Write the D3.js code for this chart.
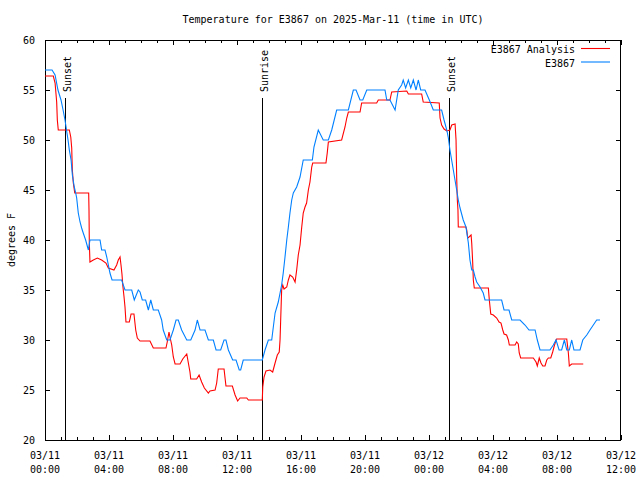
<!DOCTYPE html>
<html>
<head>
<meta charset="utf-8">
<script src="https://cdn.jsdelivr.net/npm/d3@7"></script>
<style>
  html, body { margin: 0; padding: 0; background: #fff; }
  svg { display: block; }
  text { font-family: "DejaVu Sans Mono", "Liberation Mono", monospace; font-size: 10px; fill: #000; }
</style>
</head>
<body>
<svg id="chart" width="640" height="480"></svg>
<script>
// ---- data (hours since 03/11 00:00 UTC) ----
const chartTitle = "Temperature for E3867 on 2025-Mar-11 (time in UTC)";
const yTitle = "degrees F";
const seriesNames = ["E3867 Analysis", "E3867"];
const seriesColors = ["#ff0000", "#0080ff"];

const obsHours = [0.00,0.44,0.63,0.81,1.00,1.13,1.25,1.44,1.52,1.63,1.71,1.83,1.92,1.98,2.08,2.19,2.29,2.39,2.54,2.71,2.81,3.44,3.54,3.75,3.86,4.06,4.19,4.79,5.00,5.42,5.58,5.83,5.94,6.08,6.29,6.46,6.61,6.77,7.08,7.29,7.39,7.61,7.81,8.02,8.19,8.33,8.54,8.86,9.11,9.38,9.52,9.69,10.00,10.21,10.52,10.69,10.98,11.19,11.31,11.46,11.73,11.94,12.14,12.23,12.39,13.58,13.75,13.96,14.17,14.27,14.38,14.58,14.79,14.89,15.00,15.11,15.21,15.31,15.42,15.52,15.73,15.94,16.14,16.71,16.81,17.08,17.39,17.71,17.92,18.23,18.96,19.27,19.44,19.69,19.86,20.11,21.25,21.36,21.56,21.88,22.08,22.29,22.39,22.54,22.71,22.86,23.02,23.19,23.33,23.48,23.75,24.02,24.27,24.79,24.94,25.11,25.21,25.31,25.52,25.73,25.83,25.94,26.14,26.31,26.46,26.56,26.67,26.77,26.88,26.98,27.19,27.39,27.50,28.54,28.69,29.00,29.17,29.69,30.00,30.25,30.63,30.77,30.94,31.56,31.77,31.94,32.13,32.29,32.46,32.61,32.77,32.92,33.06,33.44,33.61,33.86,34.06,34.27,34.48,34.69];
const obsTemps = [57,57,56.5,55,54,53,52,50,49,48,46.5,45.3,44.7,44.2,42.7,41.8,41.2,40.7,40,39,40,40,39,39,38.3,36.7,36,36,35,35,34,35,34.8,34,34,33,34,33,33,32,31,30,30,31,32,32,31,30,30,31,32,31,31,30,30,29,29,30,30,29,28,28,27,27,28,28,29,30,30,31.3,32.7,33.8,35.5,36.7,38.3,40,41.3,42.7,44,44.7,45.3,46.3,48,48,49.3,51,50,50,51,53,53,55,55,54,54,55,55,54,54,53,55,55.5,56,55.2,56,55.2,56,55,56,55,55,54,53,53,52,51,50.2,49,47,45,44,43.2,42,41.3,39.7,38,37,37,36.3,35.8,35.3,34.7,34,34,33,33,32,32,31.5,31,31,30,29,29,29.5,30,29,29,30,29,29,30,29,29,30,30.5,31,31.5,32,32];

const anaHours = [0.00,0.52,0.63,0.73,0.77,0.83,1.52,1.61,1.67,1.69,1.71,1.77,1.86,2.73,2.75,2.77,2.81,3.02,3.27,3.54,3.81,3.96,4.31,4.48,4.58,4.69,4.75,4.81,4.86,4.94,5.00,5.06,5.27,5.38,5.56,5.67,5.77,5.94,6.56,6.77,7.56,7.64,7.75,7.81,7.92,8.02,8.13,8.44,8.61,8.86,8.96,9.06,9.11,9.48,9.63,9.79,9.96,10.21,10.31,10.63,10.73,10.83,11.19,11.31,11.71,11.88,12.04,12.19,12.61,12.71,13.58,13.61,13.69,13.81,14.06,14.23,14.38,14.52,14.64,14.69,14.73,14.79,14.86,14.94,15.11,15.21,15.31,15.48,15.63,15.73,15.83,15.94,16.04,16.14,16.25,16.35,16.46,16.56,16.67,16.73,17.56,17.64,17.71,18.54,18.75,18.86,18.96,19.69,19.79,20.73,20.83,21.56,21.67,22.61,22.71,23.54,23.64,24.64,24.69,24.79,24.94,25.11,25.31,25.42,25.63,25.69,25.73,25.77,25.81,25.83,26.31,26.36,26.42,26.50,26.63,26.67,26.73,26.77,26.83,27.71,27.77,27.86,28.02,28.23,28.38,28.50,28.61,28.69,28.85,28.96,29.02,29.38,29.48,29.58,29.64,29.73,30.52,30.69,30.77,30.89,31.00,31.11,31.25,31.36,31.46,31.61,31.73,31.81,31.94,31.98,32.61,32.71,32.77,32.92,33.64];
const anaTemps = [56.4,56.4,55.7,53.8,52,51,51,50.3,49.2,48,47,45.7,44.7,44.7,43,39.7,37.8,38,38.2,38,37.7,37.2,37,37.5,38,38.3,37.5,36.6,35.5,34.3,33.3,31.8,31.8,32.6,32.6,31,30.2,29.9,29.9,29.2,29.2,29.8,30.8,30.3,29.5,28.3,27.6,27.6,28.1,28.6,27.7,26.8,26.1,26.1,26.5,25.8,25.2,24.7,24.9,25,25.7,27.1,27.1,25.4,25.4,24.5,23.9,24.2,24.2,24,24,25.3,26.3,26.9,27,26.8,27.7,28.5,28.8,30,32,35,35.5,35.1,35.3,36,36.5,36.3,35.8,37,38.5,39.5,41.2,42.7,43.3,43.7,45,45.8,47.3,47.7,47.7,48.7,49.8,50,51.3,52.2,52.8,52.8,53.7,53.7,54,54,54.8,54.9,54.6,54.6,53.8,53.7,52.2,51.5,51.1,50.9,51,51.5,51.6,50,46.3,44,43,41.3,41.3,41,40.2,40.3,40.5,39.7,37.8,36,35.2,35.2,34,32.6,32.5,32.2,31.8,31.7,31,30.6,30.5,30,29.5,29.5,29.8,29.6,28.7,28.2,28.2,27.8,27.4,28.2,27.7,27.4,27.4,28,28.2,28.2,28.8,29.3,30,30.1,30.1,28.7,27.4,27.6,27.6];

const eventNames = ["Sunset", "Sunrise", "Sunset"];
const eventHours = [1.25, 13.56, 25.25];

const xTickHours = [0, 4, 8, 12, 16, 20, 24, 28, 32, 36];
const xTickDays = ["03/11","03/11","03/11","03/11","03/11","03/11","03/12","03/12","03/12","03/12"];
const xTickTimes = ["00:00","04:00","08:00","12:00","16:00","20:00","00:00","04:00","08:00","12:00"];
const yTicks = [20, 25, 30, 35, 40, 45, 50, 55, 60];

// ---- drawing ----
const svg = d3.select("#chart");
const L = 45, R = 621, T = 40, B = 440;
const x = d3.scaleLinear().domain([0, 36]).range([L, R]);
const y = d3.scaleLinear().domain([20, 60]).range([B, T]);

// titles
svg.append("text").attr("x", 333).attr("y", 23).attr("text-anchor", "middle").text(chartTitle);
svg.append("text").attr("transform", "translate(15,240) rotate(-90)").attr("text-anchor", "middle").text(yTitle);

// y axis left / right
const yAxisL = d3.axisLeft(y).tickValues(yTicks).tickSize(-5).tickPadding(10).tickFormat(d3.format("d"));
const gyl = svg.append("g").attr("transform", `translate(${L},0)`).call(yAxisL);
const yAxisR = d3.axisRight(y).tickValues(yTicks).tickSize(-5).tickFormat("");
const gyr = svg.append("g").attr("transform", `translate(${R},0)`).call(yAxisR);

// x axis bottom / top, majors and hourly minors
const minorHours = d3.range(0, 37, 1).filter(h => h % 4 !== 0);
const xAxisB = d3.axisBottom(x).tickValues(xTickHours).tickSize(-5).tickFormat("");
const gxb = svg.append("g").attr("transform", `translate(0,${B})`).call(xAxisB);
const xAxisBm = d3.axisBottom(x).tickValues(minorHours).tickSize(-3).tickFormat("");
const gxbm = svg.append("g").attr("transform", `translate(0,${B})`).call(xAxisBm);
const xAxisT = d3.axisTop(x).tickValues(xTickHours).tickSize(-5).tickFormat("");
const gxt = svg.append("g").attr("transform", `translate(0,${T})`).call(xAxisT);
const xAxisTm = d3.axisTop(x).tickValues(minorHours).tickSize(-3).tickFormat("");
const gxtm = svg.append("g").attr("transform", `translate(0,${T})`).call(xAxisTm);

[gyl, gyr, gxb, gxbm, gxt, gxtm].forEach(a => {
  a.attr("shape-rendering", "crispEdges");
  a.select(".domain").remove();
  a.selectAll("line").attr("stroke", "#000");
  a.selectAll("text").style("font-family", "'DejaVu Sans Mono', monospace").style("font-size", "10px").attr("fill", "#000");
});

// x tick labels (two rows)
const xl = svg.append("g");
xTickHours.forEach((h, i) => {
  xl.append("text").attr("x", x(h)).attr("y", 459).attr("text-anchor", "middle").text(xTickDays[i]);
  xl.append("text").attr("x", x(h)).attr("y", 473).attr("text-anchor", "middle").text(xTickTimes[i]);
});

// frame
svg.append("rect").attr("x", L + 0.5).attr("y", T + 0.5).attr("width", R - L - 1).attr("height", B - T)
  .attr("fill", "none").attr("stroke", "#000").attr("stroke-width", 1).attr("shape-rendering", "crispEdges");

// sunrise / sunset markers
eventHours.forEach((h, i) => {
  const px = Math.round(x(h)) + 0.5;
  svg.append("line").attr("x1", px).attr("x2", px).attr("y1", 98).attr("y2", B)
    .attr("stroke", "#000").attr("stroke-width", 1).attr("shape-rendering", "crispEdges");
  svg.append("text").attr("transform", `translate(${px + 5},92) rotate(-90)`).attr("text-anchor", "start").text(eventNames[i]);
});

// series
const line = d3.line().x(d => x(d[0])).y(d => y(d[1]));
const anaData = anaHours.map((h, i) => [h, anaTemps[i]]);
const obsData = obsHours.map((h, i) => [h, obsTemps[i]]);
svg.append("path").datum(anaData).attr("d", line).attr("fill", "none").attr("stroke", seriesColors[0]).attr("stroke-width", 1.1);
svg.append("path").datum(obsData).attr("d", line).attr("fill", "none").attr("stroke", seriesColors[1]).attr("stroke-width", 1.1);

// legend
seriesNames.forEach((n, i) => {
  const yy = 53 + i * 13.5;
  svg.append("text").attr("x", 575).attr("y", yy).attr("text-anchor", "end").text(n);
  svg.append("line").attr("x1", 581).attr("x2", 610).attr("y1", yy - 4.5).attr("y2", yy - 4.5)
    .attr("stroke", seriesColors[i]).attr("stroke-width", 1.1);
});
</script>
</body>
</html>
